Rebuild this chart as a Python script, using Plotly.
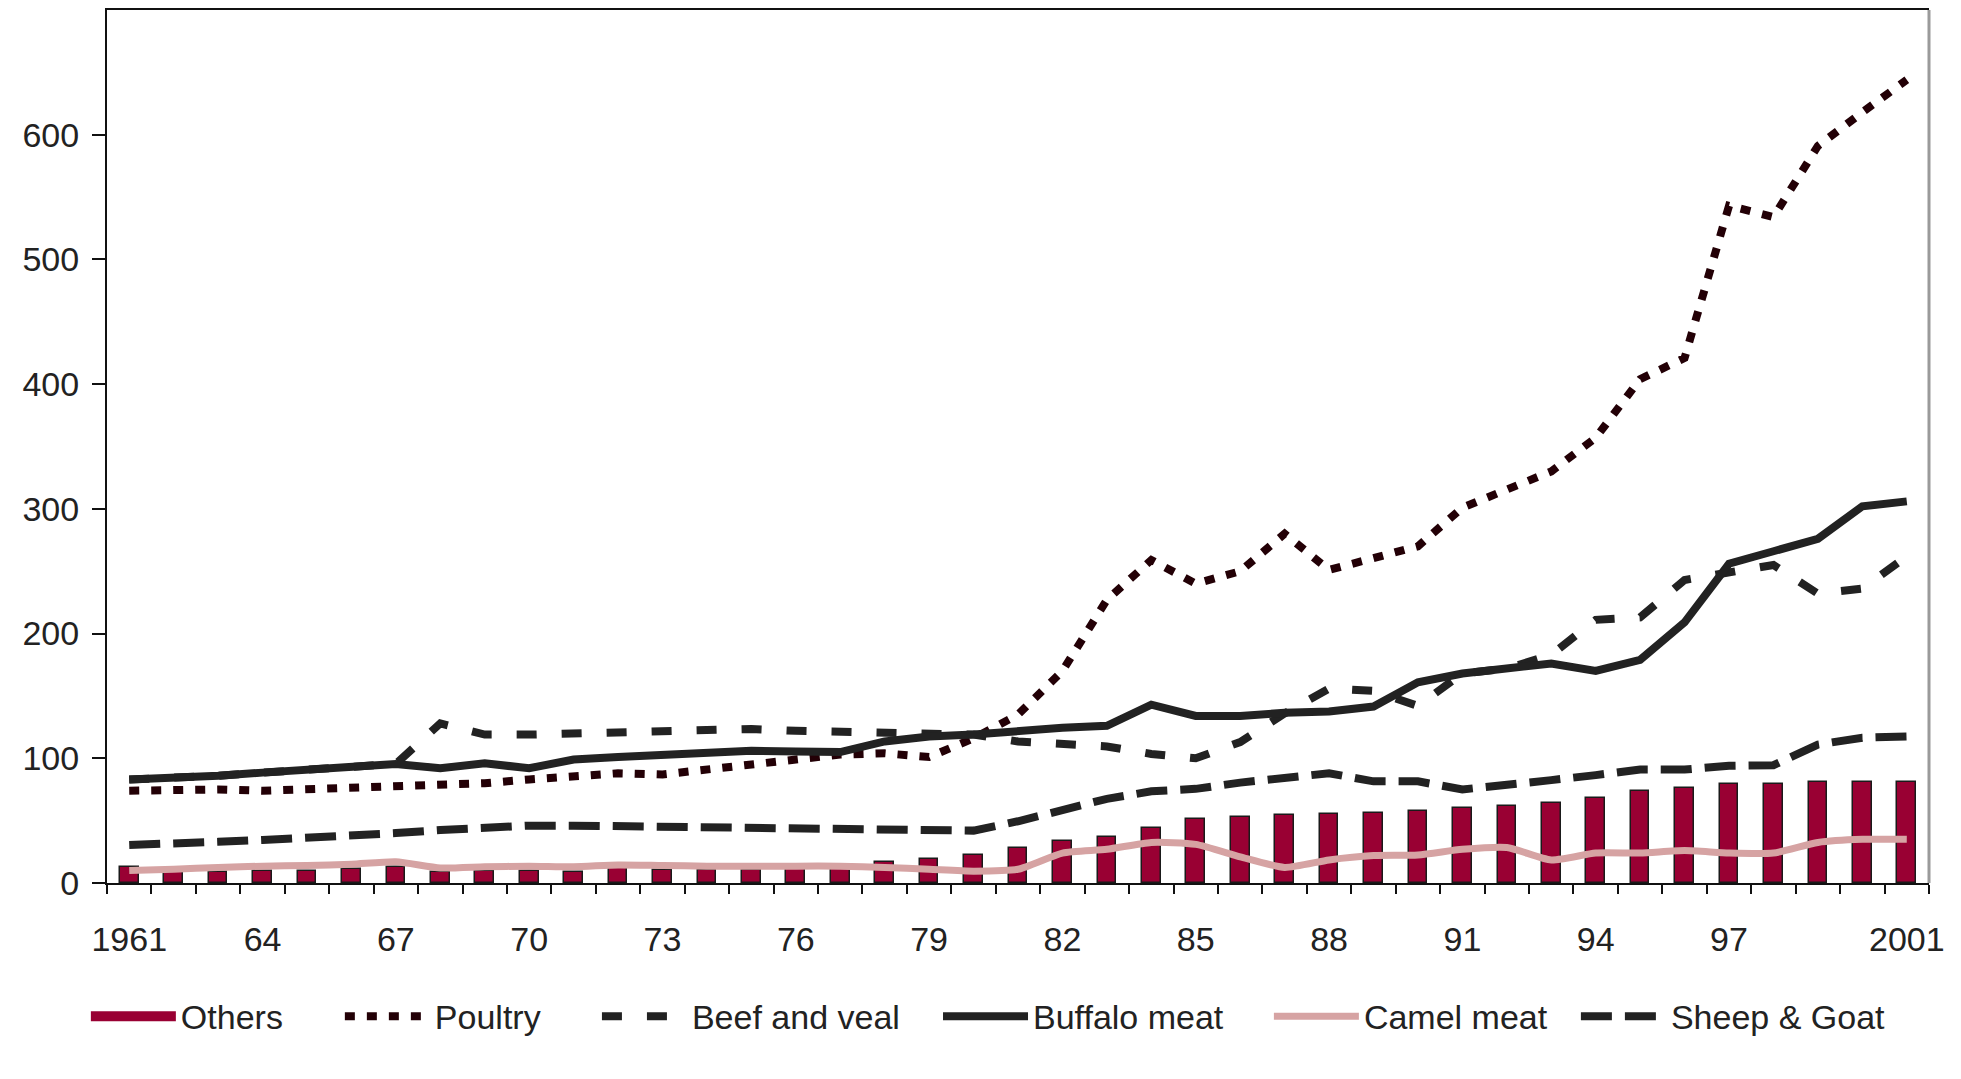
import plotly.graph_objects as go

# ---- data (thousand tons) ----
years = list(range(1961, 2002))
tick_years = [1961, 1964, 1967, 1970, 1973, 1976, 1979, 1982, 1985, 1988, 1991, 1994, 1997, 2001]
tick_labels = ["1961", "64", "67", "70", "73", "76", "79", "82", "85", "88", "91", "94", "97", "2001"]

others = [12.5, 8.5, 9, 9.5, 10, 11, 13, 8.5, 9.5, 9.5, 9, 13.5, 10.5, 10.5, 10.5, 11, 12, 16.5, 19,
          22.5, 28, 34, 37, 44, 51, 53, 54.5, 55, 56, 58, 60, 62, 64.5, 68, 74, 76.5, 79, 79, 81, 81, 81]
poultry = [74, 75, 75, 74, 75, 76.5, 78.5, 78.5, 80, 83, 85, 88, 87, 91, 95, 97.5, 103, 104, 101, 116,
           135, 170, 227, 259, 240, 250, 280, 251, 260, 270, 301, 315, 330, 357, 404, 421, 543, 534, 591,
           618, 644]
beef = [83, 84, 86, 88.5, 91, 92, 95.5, 128, 119, 119, 120, 121, 122, 123, 123.5, 122, 121, 120.5, 120,
        119, 113.5, 111, 109.5, 103.5, 100, 113, 136, 156, 154, 142, 168, 172, 183, 211, 213, 243, 249,
        255, 232, 236, 262]
buffalo = [83, 84, 86, 88.5, 91, 92, 95.5, 92, 96, 92, 99, 101, 103, 104, 106, 105.5, 105, 113.5, 117.5,
           119, 122, 124.5, 126, 143, 134, 134, 136.5, 137.5, 141.5, 161, 168, 172, 176, 170, 179, 209,
           256, 266, 276, 302, 306]
camel = [10, 11, 12.5, 13.5, 14, 15, 17, 12, 13, 13.5, 13, 14.5, 14, 13.5, 13.5, 13.5, 13.5, 12.5, 11,
         9.5, 11, 24, 27, 32.5, 31, 21, 12.5, 18.5, 22, 22.5, 27, 28.5, 18.5, 24, 24, 26, 24, 24, 32.5,
         35, 35]
sheep = [30.5, 31, 33, 34.5, 36, 37.5, 40, 42.5, 45, 46, 46, 45.5, 45, 45.5, 44.5, 43, 43, 42.5, 42, 42,
         49.5, 58.5, 67.5, 73.5, 75.5, 80.5, 84, 88, 81.5, 81.5, 75, 78, 82.5, 86.5, 91, 91, 94, 94.5,
         111, 116.5, 117.5]

# ---- styles ----
FONT = "Liberation Sans, Arial, sans-serif"
TXT = "#222222"
MAROON = "#990033"
DARK = "#222222"
POULTRY_C = "#230006"
CAMEL_C = "#D6A3A3"
LW = 8

fig = go.Figure()

fig.add_trace(go.Bar(x=years, y=others, name="Others", width=0.42,
                     marker=dict(color=MAROON, line=dict(color="#1a1a1a", width=1.5)),
                     showlegend=False, legendgroup="others"))
# legend proxy for the bar series (Excel shows it as a thick line)
fig.add_trace(go.Scatter(x=[None], y=[None], mode="lines", name="Others", legendgroup="others",
                         legend="legend", line=dict(color=MAROON, width=13)))
fig.add_trace(go.Scatter(x=years, y=poultry, mode="lines", name="Poultry", legend="legend2",
                         line=dict(color=POULTRY_C, width=LW, dash="10px,12px")))
fig.add_trace(go.Scatter(x=years, y=beef, mode="lines", name="Beef and veal", legend="legend3",
                         line=dict(color=DARK, width=LW, dash="20px,25px")))
fig.add_trace(go.Scatter(x=years, y=buffalo, mode="lines", name="Buffalo meat", legend="legend4",
                         line=dict(color=DARK, width=LW)))
fig.add_trace(go.Scatter(x=years, y=camel, mode="lines", name="Camel meat", legend="legend5",
                         line=dict(color=CAMEL_C, width=7, shape="spline", smoothing=0.6)))
fig.add_trace(go.Scatter(x=years, y=sheep, mode="lines", name="Sheep & Goat", legend="legend6",
                         line=dict(color=DARK, width=LW, dash="31px,13px")))

boundaries = [y - 0.5 for y in years] + [years[-1] + 0.5]


def leg(x):
    return dict(orientation="h", x=x, xanchor="left", y=-0.153, yanchor="middle",
                font=dict(family=FONT, size=34, color=TXT), itemwidth=85,
                bgcolor="rgba(0,0,0,0)")


fig.update_layout(
    width=1953, height=1071,
    margin=dict(l=99, r=32, t=0, b=196),
    paper_bgcolor="#5B7BA5",
    plot_bgcolor="white",
    font=dict(family=FONT, color=TXT, size=34),
    bargap=0,
    showlegend=True,
    legend=leg(-0.0116),
    legend2=leg(0.1278),
    legend3=leg(0.2689),
    legend4=leg(0.4561),
    legend5=leg(0.6377),
    legend6=leg(0.8062),
    xaxis=dict(range=[1960.5, 2001.5], showgrid=False, zeroline=False,
               showline=True, linecolor="#111111", linewidth=2, mirror=True,
               tickmode="array", tickvals=tick_years, ticktext=tick_labels, ticks="",
               ticklabelstandoff=25,
               tickfont=dict(family=FONT, size=34, color=TXT),
               minor=dict(tickmode="array", tickvals=boundaries, ticks="outside", ticklen=9,
                          tickwidth=2, tickcolor="#111111", showgrid=False)),
    yaxis=dict(range=[0, 700], showgrid=False, zeroline=False,
               showline=True, linecolor="#111111", linewidth=2,
               tickmode="array", tickvals=[0, 100, 200, 300, 400, 500, 600],
               ticks="outside", ticklen=13, tickwidth=2, tickcolor="#111111",
               ticklabelstandoff=6,
               tickfont=dict(family=FONT, size=34, color=TXT)),
    shapes=[
        # white slide panel behind the chart
        dict(type="rect", xref="paper", yref="paper", x0=-0.06, x1=1.01427, y0=-0.25, y1=1.01,
             fillcolor="white", line=dict(width=0), layer="below"),
        # grey right border of plot area
        dict(type="line", xref="paper", yref="paper", x0=1, x1=1, y0=0, y1=1,
             line=dict(color="#9a9a9a", width=3)),
    ],
)

fig.write_html("out.html")
